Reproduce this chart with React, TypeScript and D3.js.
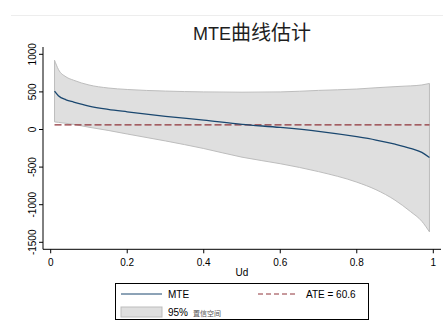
import * as d3 from "d3";

// values
const ud = [0.01, 0.02, 0.04, 0.06, 0.1, 0.15, 0.2, 0.3, 0.4, 0.5, 0.6, 0.7, 0.8, 0.85, 0.9, 0.94, 0.97, 0.99];
const mte = [510, 450, 395, 365, 312, 268, 235, 175, 124, 68, 27, -25, -96, -140, -195, -250, -305, -372];
const upper = [921, 800, 700, 655, 592, 552, 532, 511, 500, 496, 500, 520, 538, 555, 570, 580, 592, 612];
const lower = [101, 95, 82, 68, 30, -12, -60, -152, -253, -368, -455, -560, -700, -800, -940, -1090, -1220, -1362];
const ate = 60.6;

const xTicks = [0, 0.2, 0.4, 0.6, 0.8, 1];
const yTicks = [-1500, -1000, -500, 0, 500, 1000];

const W = 443, H = 328;
const navy = "#1a476f";
const maroon = "#90353b";
const bandFill = "#dfdfdf";
const bandStroke = "#bdbdbd";
const font = "'Liberation Sans', Arial, sans-serif";
const cjk = "'Noto Sans CJK SC', sans-serif";

export default function App() {
  const x = d3.scaleLinear().domain([0, 1]).range([50.7, 433.3]);
  const y = d3.scaleLinear().domain([-1500, 1000]).range([242.3, 54.3]);

  const pts = ud.map((u, i) => ({ u, m: mte[i], hi: upper[i], lo: lower[i] }));

  const area = d3.area<any>()
    .x(d => x(d.u))
    .y0(d => y(d.lo))
    .y1(d => y(d.hi))
    .curve(d3.curveMonotoneX);

  const line = d3.line<any>()
    .x(d => x(d.u))
    .y(d => y(d.m))
    .curve(d3.curveMonotoneX);

  const axisLeft = 43, axisBottom = 249.3, plotTop = 47, axisRight = 441;

  return (
    <svg width={W} height={H} style={{ position: "absolute", left: 0, top: 0, background: "#fff" }}>
      <line x1={11} x2={443} y1={15.5} y2={15.5} stroke="#ededed" />

      {/* title */}
      <text x={193} y={40} fontFamily={font} fontSize={18} fill="#1e1e1e">
        MTE<tspan fontFamily={cjk} fontSize={20}>曲线估计</tspan>
      </text>

      {/* confidence band */}
      <path d={area(pts) ?? ""} fill={bandFill} stroke={bandStroke} strokeWidth={1} />

      {/* ATE */}
      <line x1={x(ud[0])} x2={x(ud[ud.length - 1])} y1={y(ate)} y2={y(ate)}
        stroke={maroon} strokeWidth={1.3} strokeDasharray="7,3" />

      {/* MTE */}
      <path d={line(pts) ?? ""} fill="none" stroke={navy} strokeWidth={1.3} />

      {/* y axis */}
      <line x1={axisLeft} x2={axisLeft} y1={plotTop} y2={axisBottom} stroke="#000" />
      {yTicks.map(t => (
        <g key={t}>
          <line x1={axisLeft - 4} x2={axisLeft} y1={y(t)} y2={y(t)} stroke="#000" />
          <text transform={`translate(35.5,${y(t)}) rotate(-90)`} textAnchor="middle"
            fontFamily={font} fontSize={10} fill="#000">{t}</text>
        </g>
      ))}

      {/* x axis */}
      <line x1={axisLeft} x2={axisRight} y1={axisBottom} y2={axisBottom} stroke="#000" />
      {xTicks.map(t => (
        <g key={t}>
          <line x1={x(t)} x2={x(t)} y1={axisBottom} y2={axisBottom + 4} stroke="#000" />
          <text x={x(t)} y={266} textAnchor="middle" fontFamily={font} fontSize={10} fill="#000">{t}</text>
        </g>
      ))}
      <text x={242} y={276} textAnchor="middle" fontFamily={font} fontSize={10} fill="#000">Ud</text>

      {/* legend */}
      <rect x={115.5} y={283.5} width={253} height={36} fill="#fff" stroke="#000" />
      <line x1={121} x2={162} y1={294} y2={294} stroke={navy} strokeWidth={1} />
      <text x={168} y={298} fontFamily={font} fontSize={10} fill="#000">MTE</text>
      <line x1={258} x2={298} y1={294} y2={294} stroke={maroon} strokeWidth={1} strokeDasharray="5,3" />
      <text x={306} y={298} fontFamily={font} fontSize={10} fill="#000">ATE = {ate}</text>
      <rect x={121} y={307} width={41} height={10} fill={bandFill} stroke={bandStroke} />
      <text x={168} y={315.5} fontFamily={font} fontSize={10} fill="#000">95%</text>
      <text x={193} y={315.5} fontFamily={cjk} fontSize={7} fill="#555">置信空间</text>
    </svg>
  );
}
